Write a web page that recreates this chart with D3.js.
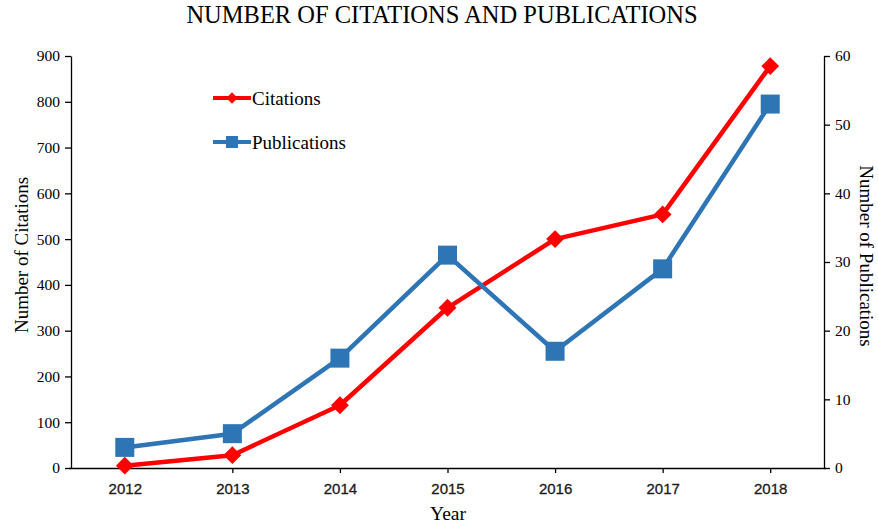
<!DOCTYPE html>
<html><head><meta charset="utf-8">
<script src="https://cdn.jsdelivr.net/npm/d3@7"></script>
<style>body{margin:0;background:#fff}</style>
</head><body>
<svg id="c" width="878" height="524"></svg>
<script>
const years = ["2012","2013","2014","2015","2016","2017","2018"];
const citations = [5, 28, 137, 350, 500, 554, 878];
const publications = [3, 5, 16, 31, 17, 29, 53];
const leftTicks = [0,100,200,300,400,500,600,700,800,900];
const rightTicks = [0,10,20,30,40,50,60];

const svg = d3.select("#c");
const L = 71, R = 824, T = 56, B = 468;
const x = d3.scalePoint().domain(years).range([L, R]).padding(0.5);
const yL = d3.scaleLinear().domain([0, 900]).range([B, T]);
const yR = d3.scaleLinear().domain([0, 60]).range([B, T]);
const serif = "'Liberation Serif','Times New Roman',serif";
const sans = "'Liberation Sans',Arial,sans-serif";
const red = "#ff0000", blue = "#2e75b6";

svg.append("text").attr("x", 442).attr("y", 23).attr("text-anchor", "middle")
  .attr("font-family", serif).attr("font-size", 24.5).text("NUMBER OF CITATIONS AND PUBLICATIONS");

const ax = svg.append("g").attr("transform", `translate(0,${B})`)
  .call(d3.axisBottom(x).tickSize(5).tickSizeOuter(0));
ax.select(".domain").attr("d", `M${L-2},0.5H${R+2}`);
ax.selectAll("text").attr("font-family", sans).attr("font-size", 15).attr("fill", "#1a1a1a")
  .attr("stroke", "#1a1a1a").attr("stroke-width", 0.3).attr("y", 26).attr("dy", 0);

const gl = svg.append("g").attr("transform", `translate(${L},0)`)
  .call(d3.axisLeft(yL).tickValues(leftTicks).tickSize(6).tickSizeOuter(0));
gl.selectAll("text").attr("font-family", serif).attr("font-size", 15.5).attr("fill", "#000").attr("x", -11);

const gr = svg.append("g").attr("transform", `translate(${R},0)`)
  .call(d3.axisRight(yR).tickValues(rightTicks).tickSize(6).tickSizeOuter(0));
gr.selectAll("text").attr("font-family", serif).attr("font-size", 15.5).attr("fill", "#000").attr("x", 11);

svg.selectAll(".domain, .tick line").attr("stroke", "#000").attr("stroke-width", 1.3);

svg.append("text").attr("x", 448).attr("y", 520).attr("text-anchor", "middle")
  .attr("font-family", serif).attr("font-size", 19.5).text("Year");
svg.append("text").attr("transform", "translate(28,255) rotate(-90)").attr("text-anchor", "middle")
  .attr("font-family", serif).attr("font-size", 19).text("Number of Citations");
svg.append("text").attr("transform", "translate(860,256) rotate(90)").attr("text-anchor", "middle")
  .attr("font-family", serif).attr("font-size", 19).text("Number of Publications");

const lineC = d3.line().x((d,i) => x(years[i])).y(d => yL(d));
const lineP = d3.line().x((d,i) => x(years[i])).y(d => yR(d));

svg.append("path").datum(citations).attr("d", lineC).attr("fill", "none")
  .attr("stroke", red).attr("stroke-width", 4.5).attr("stroke-linejoin", "round");
svg.selectAll(".dia").data(citations).join("path")
  .attr("transform", (d,i) => `translate(${x(years[i])},${yL(d)}) rotate(45)`)
  .attr("d", "M-6.3,-6.3H6.3V6.3H-6.3Z").attr("fill", red);

svg.append("path").datum(publications).attr("d", lineP).attr("fill", "none")
  .attr("stroke", blue).attr("stroke-width", 4.5).attr("stroke-linejoin", "round");
svg.selectAll(".sq").data(publications).join("rect")
  .attr("x", (d,i) => x(years[i]) - 9.5).attr("y", d => yR(d) - 9.5)
  .attr("width", 19).attr("height", 19).attr("fill", blue);

// legend
const lg = svg.append("g");
lg.append("line").attr("x1", 213).attr("x2", 251).attr("y1", 98).attr("y2", 98).attr("stroke", red).attr("stroke-width", 4);
lg.append("path").attr("transform", "translate(232,98) rotate(45)").attr("d", "M-4,-4H4V4H-4Z").attr("fill", red);
lg.append("text").attr("x", 252).attr("y", 105).attr("font-family", serif).attr("font-size", 19).text("Citations");
lg.append("line").attr("x1", 213).attr("x2", 251).attr("y1", 142).attr("y2", 142).attr("stroke", blue).attr("stroke-width", 4);
lg.append("rect").attr("x", 226).attr("y", 136).attr("width", 12).attr("height", 12).attr("fill", blue);
lg.append("text").attr("x", 252).attr("y", 149).attr("font-family", serif).attr("font-size", 19).text("Publications");
</script>
</body></html>
